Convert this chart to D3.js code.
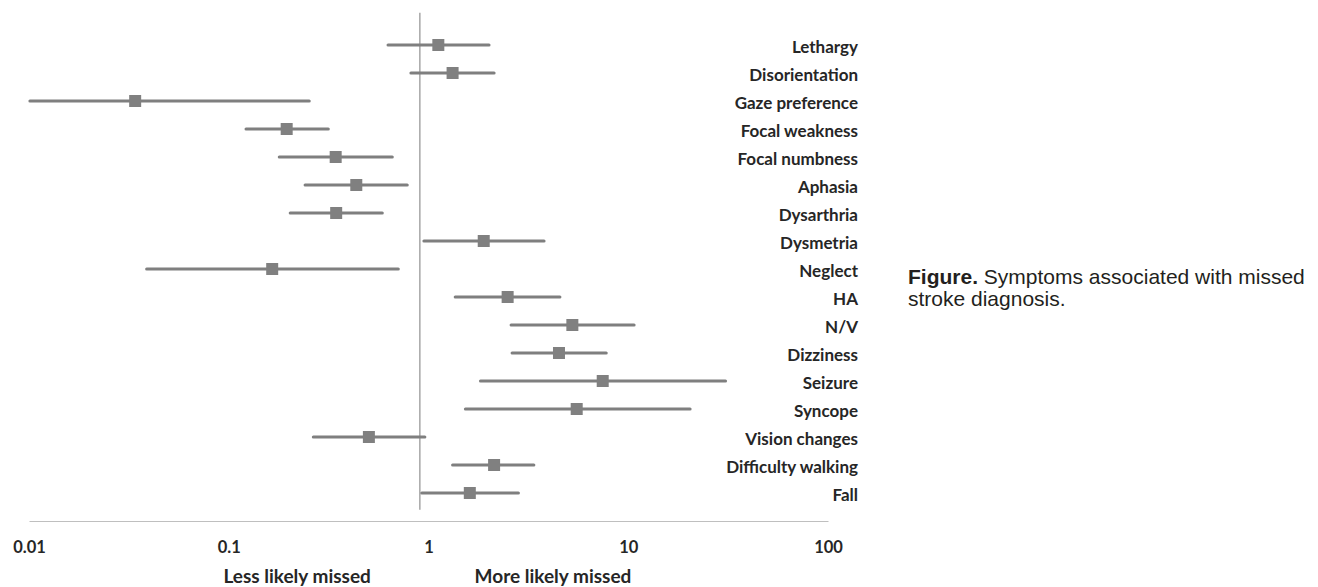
<!DOCTYPE html>
<html>
<head>
<meta charset="utf-8">
<script src="https://cdn.jsdelivr.net/npm/d3@7"></script>
<style>
  body { margin: 0; background: #fff; }
  svg { display: block; }
</style>
</head>
<body>
<div id="chart"></div>
<script>
// symptoms, top to bottom
var symptoms = ['Lethargy', 'Disorientation', 'Gaze preference', 'Focal weakness', 'Focal numbness',
  'Aphasia', 'Dysarthria', 'Dysmetria', 'Neglect', 'HA', 'N/V', 'Dizziness', 'Seizure',
  'Syncope', 'Vision changes', 'Difficulty walking', 'Fall'];
// odds ratios and 95% CI
var oddsRatio = [1.12, 1.32, 0.034, 0.195, 0.343, 0.435, 0.345, 1.89, 0.165, 2.49, 5.25, 4.5, 7.45, 5.52, 0.503, 2.13, 1.61];
var ciLow = [0.627, 0.816, 0.0101, 0.122, 0.179, 0.241, 0.203, 0.948, 0.0388, 1.36, 2.59, 2.62, 1.82, 1.53, 0.265, 1.32, 0.925];
var ciHigh = [2.01, 2.13, 0.253, 0.315, 0.659, 0.783, 0.587, 3.79, 0.706, 4.55, 10.7, 7.76, 30.7, 20.4, 0.959, 3.37, 2.82];
var tickValues = [0.01, 0.1, 1, 10, 100];
var tickLabels = ['0.01', '0.1', '1', '10', '100'];
var refValue = 0.905;
var directionLabels = ['Less likely missed', 'More likely missed'];
var directionValues = [0.22, 4.2];

var w = 1318, h = 587;
var data = symptoms.map(function(s, i) {
  return {name: s, or: oddsRatio[i], lo: ciLow[i], hi: ciHigh[i]};
});

var svg = d3.select('#chart').append('svg')
  .attr('width', w)
  .attr('height', h);

var x = d3.scaleLog()
  .domain([0.01, 100])
  .range([29, 828]);
var y = d3.scalePoint()
  .domain(symptoms)
  .range([45, 493]);
var axisY = y.range()[1] + y.step();

// reference line
svg.append('line')
  .attr('x1', x(refValue)).attr('x2', x(refValue))
  .attr('y1', y.range()[0] - y.step() * 1.15)
  .attr('y2', y.range()[1] + y.step() * 0.6)
  .attr('stroke', '#a6a6a6')
  .attr('stroke-width', 1.5);

// x axis
var xAxis = d3.axisBottom(x)
  .tickValues(tickValues)
  .tickFormat(function(d, i) { return tickLabels[i]; })
  .tickSize(0)
  .tickPadding(20);

var gx = svg.append('g')
  .attr('transform', 'translate(0,' + axisY + ')')
  .call(xAxis);
gx.select('.domain').attr('stroke', '#bfbfbf').attr('stroke-width', 1.2);
gx.selectAll('text')
  .attr('font-family', 'Lato, sans-serif')
  .attr('font-weight', 'bold')
  .attr('font-size', '16.5px')
  .attr('fill', '#262626');

// CI whiskers
svg.selectAll('line.ci')
  .data(data).enter()
  .append('line')
  .attr('class', 'ci')
  .attr('x1', function(d) { return x(d.lo); })
  .attr('x2', function(d) { return x(d.hi); })
  .attr('y1', function(d) { return y(d.name); })
  .attr('y2', function(d) { return y(d.name); })
  .attr('stroke', '#7f7f7f')
  .attr('stroke-width', 3)
  .attr('stroke-linecap', 'round');

// point estimates
var sq = 12;
svg.selectAll('rect.or')
  .data(data).enter()
  .append('rect')
  .attr('class', 'or')
  .attr('x', function(d) { return x(d.or) - sq / 2; })
  .attr('y', function(d) { return y(d.name) - sq / 2; })
  .attr('width', sq)
  .attr('height', sq)
  .attr('fill', '#808080');

// symptom names
svg.selectAll('text.name')
  .data(data).enter()
  .append('text')
  .attr('class', 'name')
  .attr('x', 858)
  .attr('y', function(d) { return y(d.name); })
  .attr('dy', '0.45em')
  .attr('text-anchor', 'end')
  .attr('font-family', 'Lato, sans-serif')
  .attr('font-weight', 'bold')
  .attr('font-size', '17px')
  .attr('fill', '#262626')
  .text(function(d) { return d.name; });

// direction labels under the axis
svg.selectAll('text.dir')
  .data(directionLabels).enter()
  .append('text')
  .attr('class', 'dir')
  .attr('x', function(d, i) { return x(directionValues[i]); })
  .attr('y', 583)
  .attr('text-anchor', 'middle')
  .attr('font-family', 'Lato, sans-serif')
  .attr('font-weight', 'bold')
  .attr('font-size', '19px')
  .attr('fill', '#262626')
  .text(function(d) { return d; });

// caption
var cap = svg.append('text')
  .attr('font-family', 'Liberation Sans, Arial, sans-serif')
  .attr('font-size', '21px')
  .attr('fill', '#231f20');
var l1 = cap.append('tspan').attr('x', 908).attr('y', 284);
l1.append('tspan').attr('font-weight', 'bold').text('Figure.');
l1.append('tspan').text(' Symptoms associated with missed');
cap.append('tspan').attr('x', 908).attr('y', 306).text('stroke diagnosis.');
</script>
</body>
</html>
